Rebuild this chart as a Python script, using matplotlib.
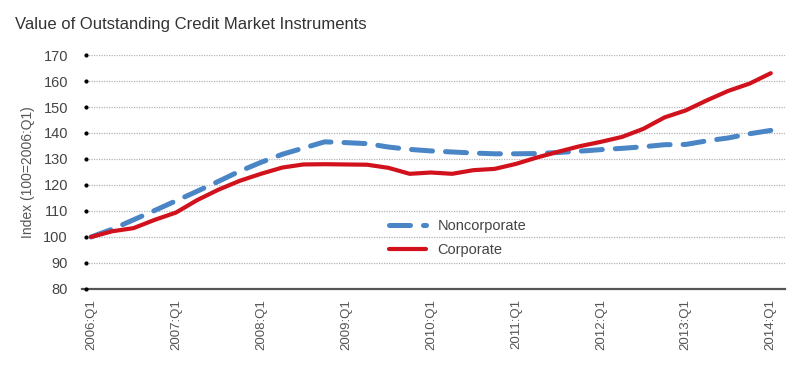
import numpy as np
import matplotlib
matplotlib.use("Agg")
import matplotlib.pyplot as plt

plt.rcParams['font.family'] = ['Liberation Sans', 'DejaVu Sans']

# quarterly data, 2006:Q1 .. 2014:Q1
quarters = [f"{y}:Q{q}" for y in range(2006, 2015) for q in range(1, 5)][:33]
noncorporate = [100, 103, 106.6, 110.2, 113.9, 117.6, 121.4, 125.3, 128.7, 131.8,
                134.2, 136.6, 136.3, 135.9, 134.6, 133.7, 133.1, 132.7, 132.3, 132.0,
                132.0, 132.1, 132.5, 133.0, 133.6, 134.1, 134.7, 135.5, 135.6, 137.0,
                138.1, 139.7, 141.0]
corporate = [100, 102.2, 103.4, 106.6, 109.4, 114.2, 118.2, 121.6, 124.3, 126.7,
             127.9, 128.0, 127.9, 127.8, 126.6, 124.3, 124.8, 124.3, 125.7, 126.2,
             128.1, 130.6, 132.8, 134.9, 136.6, 138.5, 141.6, 146.0, 148.7, 152.6,
             156.2, 159.0, 163.0]
yticks = list(range(80, 171, 10))

x = np.arange(len(quarters))

fig = plt.figure(figsize=(8, 3.82), dpi=100)
ax = fig.add_axes([0.1075, 0.2435, 0.8735, 0.6125])

for v in yticks[1:]:
    ax.axhline(v, color='#b5b5b5', lw=0.9, ls=(0, (1, 1)), zorder=1)

ax.plot(x, noncorporate, color='#4a86c6', lw=3.6, ls=(0, (4.2, 2.6)),
        dash_capstyle='round', label='Noncorporate', zorder=3)
ax.plot(x, corporate, color='#d1121c', lw=3.0, solid_capstyle='round',
        label='Corporate', zorder=4)

ax.set_xlim(-0.235, 32.66)
ax.set_ylim(80, 170)
ax.set_yticks(yticks)
ax.set_xticks(x[::4])
ax.set_xticklabels(quarters[::4], rotation=90, color='#555555', fontsize=9.5)
for lab in ax.get_yticklabels():
    lab.set_color('#444444')
    lab.set_fontsize(10.5)
ax.tick_params(axis='y', length=0, pad=13)
ax.tick_params(axis='x', length=0, pad=7)

# dots at the left end of each grid line
ax.plot([-0.235] * len(yticks), yticks, 'o', color='black', ms=2,
        clip_on=False, zorder=5)

for s in ['top', 'right', 'left']:
    ax.spines[s].set_visible(False)
ax.spines['bottom'].set_color('#555555')
ax.spines['bottom'].set_linewidth(1.6)
ax.spines['bottom'].set_bounds(-0.4, 32.66)

ax.set_ylabel('Index (100=2006:Q1)', color='#555555', fontsize=10, labelpad=6)

ax.legend(loc='upper left', bbox_to_anchor=(0.415, 0.355), frameon=False,
          handlelength=2.5, handletextpad=0.8, labelspacing=0.7, fontsize=10.5,
          labelcolor='#444444')

fig.text(0.019, 0.935, 'Value of Outstanding Credit Market Instruments',
         fontsize=12, color='#333333', ha='left', va='center')

fig.savefig('out.png', dpi=100)
